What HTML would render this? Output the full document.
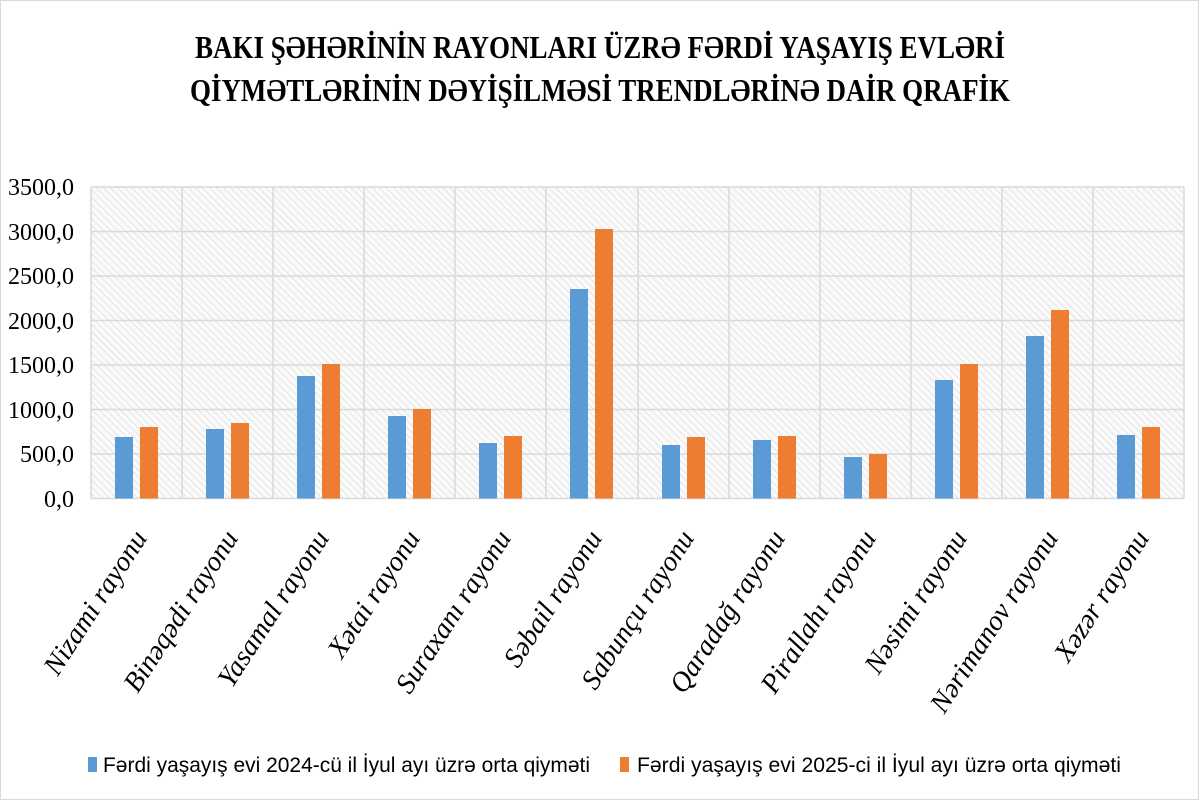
<!DOCTYPE html>
<html><head><meta charset="utf-8"><style>
html,body{margin:0;padding:0;background:#fff}
svg{display:block}
</style></head><body>
<svg width="1200" height="800" viewBox="0 0 1200 800" xmlns="http://www.w3.org/2000/svg">
<defs>
<pattern id="h" width="5" height="5" patternUnits="userSpaceOnUse" patternTransform="rotate(-45)">
<rect width="5" height="5" fill="#fafafa"/>
<line x1="0" y1="0" x2="0" y2="5" stroke="#d6d6d6" stroke-width="1.2"/>
</pattern>
</defs>
<rect x="0.5" y="0.5" width="1198" height="799" fill="#fff" stroke="#d9d9d9"/>
<g font-family="Liberation Serif, serif" font-weight="bold" font-size="32" text-anchor="middle" fill="#000">
<text x="600" y="58" textLength="810" lengthAdjust="spacingAndGlyphs">BAKI ŞƏHƏRİNİN RAYONLARI ÜZRƏ FƏRDİ YAŞAYIŞ EVLƏRİ</text>
<text x="600" y="101" textLength="820" lengthAdjust="spacingAndGlyphs">QİYMƏTLƏRİNİN DƏYİŞİLMƏSİ TRENDLƏRİNƏ DAİR QRAFİK</text>
</g>
<rect x="91" y="187" width="1093" height="312" fill="url(#h)"/>
<g stroke="#d9d9d9" stroke-width="1.5">
<line x1="91" y1="187" x2="1184" y2="187"/>
<line x1="91" y1="231.5" x2="1184" y2="231.5"/>
<line x1="91" y1="276" x2="1184" y2="276"/>
<line x1="91" y1="320.5" x2="1184" y2="320.5"/>
<line x1="91" y1="365" x2="1184" y2="365"/>
<line x1="91" y1="409.5" x2="1184" y2="409.5"/>
<line x1="91" y1="454" x2="1184" y2="454"/>
<line x1="91" y1="498.5" x2="1184" y2="498.5"/>
<line x1="91" y1="187" x2="91" y2="499"/>
<line x1="182" y1="187" x2="182" y2="499"/>
<line x1="273" y1="187" x2="273" y2="499"/>
<line x1="364" y1="187" x2="364" y2="499"/>
<line x1="455" y1="187" x2="455" y2="499"/>
<line x1="546" y1="187" x2="546" y2="499"/>
<line x1="638" y1="187" x2="638" y2="499"/>
<line x1="729" y1="187" x2="729" y2="499"/>
<line x1="820" y1="187" x2="820" y2="499"/>
<line x1="911" y1="187" x2="911" y2="499"/>
<line x1="1002" y1="187" x2="1002" y2="499"/>
<line x1="1093" y1="187" x2="1093" y2="499"/>
<line x1="1184" y1="187" x2="1184" y2="499"/>
</g>
<g font-family="Liberation Serif, serif" font-size="24" text-anchor="end" fill="#000">
<text x="74" y="195">3500,0</text>
<text x="74" y="240">3000,0</text>
<text x="74" y="284">2500,0</text>
<text x="74" y="329">2000,0</text>
<text x="74" y="373">1500,0</text>
<text x="74" y="418">1000,0</text>
<text x="74" y="462">500,0</text>
<text x="74" y="507">0,0</text>
</g>
<g fill="#5b9bd5">
<rect x="115" y="437" width="18" height="61.5"/>
<rect x="206" y="429" width="18" height="69.5"/>
<rect x="297" y="376" width="18" height="122.5"/>
<rect x="388" y="416" width="18" height="82.5"/>
<rect x="479" y="443" width="18" height="55.5"/>
<rect x="570" y="289" width="18" height="209.5"/>
<rect x="662" y="445" width="18" height="53.5"/>
<rect x="753" y="440" width="18" height="58.5"/>
<rect x="844" y="457" width="18" height="41.5"/>
<rect x="935" y="380" width="18" height="118.5"/>
<rect x="1026" y="336" width="18" height="162.5"/>
<rect x="1117" y="435" width="18" height="63.5"/>
</g>
<g fill="#ed7d31">
<rect x="140" y="427" width="18" height="71.5"/>
<rect x="231" y="423" width="18" height="75.5"/>
<rect x="322" y="364" width="18" height="134.5"/>
<rect x="413" y="409" width="18" height="89.5"/>
<rect x="504" y="436" width="18" height="62.5"/>
<rect x="595" y="229" width="18" height="269.5"/>
<rect x="687" y="437" width="18" height="61.5"/>
<rect x="778" y="436" width="18" height="62.5"/>
<rect x="869" y="454" width="18" height="44.5"/>
<rect x="960" y="364" width="18" height="134.5"/>
<rect x="1051" y="310" width="18" height="188.5"/>
<rect x="1142" y="427" width="18" height="71.5"/>
</g>
<g font-family="Liberation Serif, serif" font-style="italic" font-size="28" text-anchor="end" fill="#000">
<text transform="translate(148,538) rotate(-57)">Nizami rayonu</text>
<text transform="translate(239,538) rotate(-57)">Binəqədi rayonu</text>
<text transform="translate(330,538) rotate(-57)">Yasamal rayonu</text>
<text transform="translate(421,538) rotate(-57)">Xətai rayonu</text>
<text transform="translate(512,538) rotate(-57)">Suraxanı rayonu</text>
<text transform="translate(603,538) rotate(-57)">Səbail rayonu</text>
<text transform="translate(695,538) rotate(-57)">Sabunçu rayonu</text>
<text transform="translate(786,538) rotate(-57)">Qaradağ rayonu</text>
<text transform="translate(877,538) rotate(-57)">Pirallahı rayonu</text>
<text transform="translate(968,538) rotate(-57)">Nəsimi rayonu</text>
<text transform="translate(1059,538) rotate(-57)">Nərimanov rayonu</text>
<text transform="translate(1150,538) rotate(-57)">Xəzər rayonu</text>
</g>
<rect x="88" y="757" width="9" height="15" fill="#5b9bd5"/>
<rect x="620" y="757" width="9" height="15" fill="#ed7d31"/>
<g font-family="Liberation Sans Narrow, Liberation Sans, sans-serif" font-size="21" fill="#000">
<text x="103" y="772" textLength="487" lengthAdjust="spacingAndGlyphs">Fərdi yaşayış evi  2024-cü il İyul ayı üzrə orta qiyməti</text>
<text x="637" y="772" textLength="484" lengthAdjust="spacingAndGlyphs">Fərdi yaşayış evi  2025-ci il İyul ayı üzrə orta qiyməti</text>
</g>
</svg>
</body></html>
